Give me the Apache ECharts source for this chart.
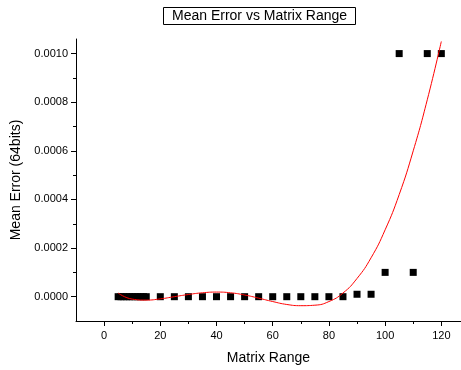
<!DOCTYPE html>
<html>
<head>
<meta charset="utf-8">
<script src="https://cdn.jsdelivr.net/npm/echarts@6/dist/echarts.min.js"></script>
<style>
  html, body { margin: 0; padding: 0; background: #fff; }
  #chart { width: 461px; height: 370px; }
</style>
</head>
<body>
<div id="chart"></div>
<script>
// measured points
const rangeX = [5, 6, 7, 8, 9, 10, 11, 12, 13, 14, 15, 20, 25, 30, 35, 40, 45, 50, 55, 60, 65, 70, 75, 80, 85, 90, 95, 100, 105, 110, 115, 120];
const meanErr = [0, 0, 0, 0, 0, 0, 0, 0, 0, 0, 0, 0, 0, 0, 0, 0, 0, 0, 0, 0, 0, 0, 0, 0, 0, 1e-5, 1e-5, 1e-4, 1e-3, 1e-4, 1e-3, 1e-3];

// polynomial fit curve
const fitX = [5, 10, 15, 20, 25, 30, 35, 40, 45, 50, 55, 60, 65, 70, 75, 80, 85, 90, 95, 100, 105, 110, 115, 120];
const fitY = [15e-6, -10e-6, -14e-6, -9e-6, 0, 9e-6, 16e-6, 19e-6, 16e-6, 7e-6, -6e-6, -20e-6, -32e-6, -37e-6, -35e-6, -20e-6, 15e-6, 75e-6, 160e-6, 275e-6, 420e-6, 600e-6, 810e-6, 1050e-6];

// ticks
const xMajor = [0, 20, 40, 60, 80, 100, 120];
const xMinor = [10, 30, 50, 70, 90, 110];
const yMajor = [0, 0.0002, 0.0004, 0.0006, 0.0008, 0.001];
const yMinor = [0.0001, 0.0003, 0.0005, 0.0007, 0.0009];

const font = 'Liberation Sans, Arial, sans-serif';
const xMin = -10, xMax = 127;
const yMin = -0.0001, yMax = 0.00106;

const chart = echarts.init(document.getElementById('chart'), null, { renderer: 'canvas' });

const hidden = { show: false };

chart.setOption({
  animation: false,
  title: {
    text: 'Mean Error vs Matrix Range',
    left: 163,
    top: 7,
    padding: [2, 9],
    borderColor: '#000',
    borderWidth: 1,
    textStyle: { fontFamily: font, fontSize: 14, fontWeight: 'normal', color: '#000', lineHeight: 14 }
  },
  grid: { left: 76, right: 0, top: 39, bottom: 48 },
  xAxis: [
    {
      type: 'value',
      min: xMin,
      max: xMax,
      position: 'bottom',
      name: 'Matrix Range',
      nameLocation: 'middle',
      nameGap: 30,
      nameTextStyle: { fontFamily: font, fontSize: 14, color: '#000' },
      axisLine: { onZero: false, lineStyle: { color: '#000', width: 1 } },
      axisTick: { customValues: xMajor, length: 5, lineStyle: { color: '#000' } },
      axisLabel: { customValues: xMajor, margin: 9, fontFamily: font, fontSize: 11, color: '#000' },
      splitLine: hidden
    },
    {
      type: 'value',
      min: xMin,
      max: xMax,
      position: 'bottom',
      axisLine: { show: false, onZero: false },
      axisTick: { customValues: xMinor, length: 3, lineStyle: { color: '#000' } },
      axisLabel: hidden,
      splitLine: hidden
    }
  ],
  yAxis: [
    {
      type: 'value',
      min: yMin,
      max: yMax,
      position: 'left',
      name: 'Mean Error (64bits)',
      nameLocation: 'middle',
      nameGap: 47,
      nameTextStyle: { fontFamily: font, fontSize: 14, color: '#000' },
      axisLine: { show: true, onZero: false, lineStyle: { color: '#000', width: 1 } },
      axisTick: { show: true, customValues: yMajor, length: 5, lineStyle: { color: '#000' } },
      axisLabel: {
        customValues: yMajor,
        margin: 8,
        fontFamily: font,
        fontSize: 11,
        color: '#000',
        formatter: (v) => v.toFixed(4)
      },
      splitLine: hidden
    },
    {
      type: 'value',
      min: yMin,
      max: yMax,
      position: 'left',
      axisLine: { show: false, onZero: false },
      axisTick: { show: true, customValues: yMinor, length: 3, lineStyle: { color: '#000' } },
      axisLabel: hidden,
      splitLine: hidden
    }
  ],
  series: [
    {
      type: 'scatter',
      symbol: 'rect',
      symbolSize: 7,
      itemStyle: { color: '#000', opacity: 1 },
      data: rangeX.map((x, i) => [x, meanErr[i]])
    },
    {
      type: 'line',
      smooth: true,
      showSymbol: false,
      lineStyle: { color: '#ff0000', width: 1 },
      data: fitX.map((x, i) => [x, fitY[i]])
    }
  ]
});
</script>
</body>
</html>
